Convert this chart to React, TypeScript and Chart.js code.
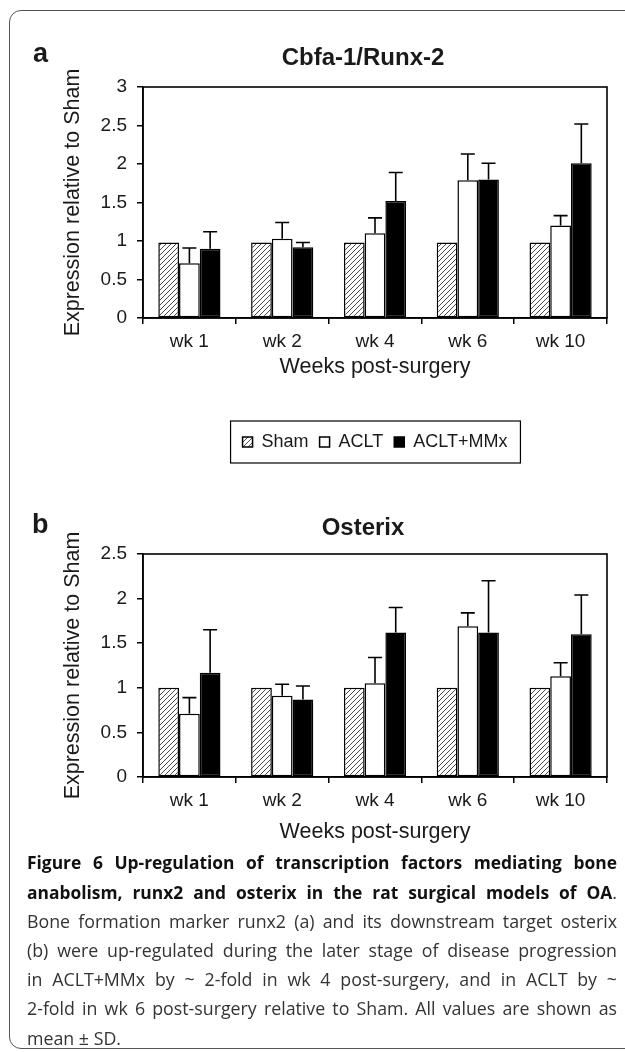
import React, { useEffect, useRef } from 'react';
import { Chart, registerables } from 'chart.js';

Chart.register(...registerables);

// ---------- data ----------
const categories = ['wk 1', 'wk 2', 'wk 4', 'wk 6', 'wk 10'];
const seriesNames = ['Sham', 'ACLT', 'ACLT+MMx'];

const runxSham = [0.98, 0.98, 0.98, 0.98, 0.98];
const runxAclt = [0.71, 1.03, 1.1, 1.79, 1.2];
const runxAcltSd = [0.2, 0.21, 0.2, 0.34, 0.13];
const runxMmx = [0.9, 0.92, 1.52, 1.8, 2.01];
const runxMmxSd = [0.22, 0.06, 0.37, 0.21, 0.51];
const runxTicks = [0, 0.5, 1, 1.5, 2, 2.5, 3];

const osxSham = [1, 1, 1, 1, 1];
const osxAclt = [0.71, 0.91, 1.05, 1.69, 1.13];
const osxAcltSd = [0.18, 0.13, 0.29, 0.15, 0.15];
const osxMmx = [1.17, 0.87, 1.62, 1.62, 1.6];
const osxMmxSd = [0.48, 0.15, 0.28, 0.58, 0.44];
const osxTicks = [0, 0.5, 1, 1.5, 2, 2.5];

const yTitle = 'Expression relative to Sham';
const xTitle = 'Weeks post-surgery';

const captionBold1 = 'Figure 6 Up-regulation of transcription factors mediating bone';
const captionBold2 = 'anabolism, runx2 and osterix in the rat surgical models of OA';
const captionLines = [
  'Bone formation marker runx2 (a) and its downstream target osterix',
  '(b) were up-regulated during the later stage of disease progression',
  'in ACLT+MMx by ~ 2-fold in wk 4 post-surgery, and in ACLT by ~',
  '2-fold in wk 6 post-surgery relative to Sham. All values are shown as',
  'mean ± SD.',
];

const FONT = '"Liberation Sans", Arial, Helvetica, sans-serif';
const INK = '#1a1a1a';

function makeHatch(): CanvasPattern | string {
  const c = document.createElement('canvas');
  const s = 5;
  c.width = s;
  c.height = s;
  const g = c.getContext('2d');
  if (!g) return '#ccc';
  g.fillStyle = '#ffffff';
  g.fillRect(0, 0, s, s);
  g.strokeStyle = '#4a4a4a';
  g.lineWidth = 1;
  g.beginPath();
  g.moveTo(0, s);
  g.lineTo(s, 0);
  g.moveTo(-1, 1);
  g.lineTo(1, -1);
  g.moveTo(s - 1, s + 1);
  g.lineTo(s + 1, s - 1);
  g.stroke();
  const p = g.createPattern(c, 'repeat');
  return p || '#ccc';
}

const errorBarPlugin = {
  id: 'errorBars',
  afterDatasetsDraw(chart: any) {
    const ctx = chart.ctx;
    const y = chart.scales.y;
    chart.data.datasets.forEach((ds: any, i: number) => {
      const errs = ds.errors;
      if (!errs) return;
      const meta = chart.getDatasetMeta(i);
      meta.data.forEach((bar: any, j: number) => {
        const v = ds.data[j];
        const e = errs[j];
        const top = y.getPixelForValue(v + e);
        const x = bar.x;
        ctx.save();
        ctx.strokeStyle = '#000';
        ctx.lineWidth = 1.6;
        ctx.beginPath();
        ctx.moveTo(x, bar.y);
        ctx.lineTo(x, top);
        ctx.moveTo(x - 7, top);
        ctx.lineTo(x + 7, top);
        ctx.stroke();
        ctx.restore();
      });
    });
  },
};

const frameAndLegendPlugin = {
  id: 'frameAndLegend',
  afterLayout(chart: any) {
    const t = chart.titleBlock;
    if (t) {
      t.left -= 12;
      t.right -= 12;
    }
  },
  afterDraw(chart: any) {
    const ctx = chart.ctx;
    const a = chart.chartArea;
    ctx.save();
    ctx.strokeStyle = '#000';
    ctx.lineWidth = 1.6;
    ctx.strokeRect(a.left, a.top, a.right - a.left, a.bottom - a.top);
    const lg = chart.legend;
    if (lg && lg.options.display && lg.legendHitBoxes && lg.legendHitBoxes.length) {
      const hb = lg.legendHitBoxes;
      let minX = Infinity;
      let maxX = -Infinity;
      hb.forEach((h: any) => {
        minX = Math.min(minX, h.left);
        maxX = Math.max(maxX, h.left + h.width);
      });
      const cy = hb[0].top + hb[0].height / 2;
      ctx.lineWidth = 1.2;
      ctx.strokeRect(minX - 12, cy - 21, maxX - minX + 25, 42);
    }
    ctx.restore();
  },
};

type PanelProps = {
  title: string;
  sham: number[];
  aclt: number[];
  acltSd: number[];
  mmx: number[];
  mmxSd: number[];
  ticks: number[];
  showLegend: boolean;
  top: number;
  height: number;
  titlePad: { top: number; bottom: number };
  layoutBottom: number;
  xAxisHeight: number;
  xTitleBottom: number;
};

function BarPanel(p: PanelProps) {
  const ref = useRef<HTMLCanvasElement | null>(null);
  useEffect(() => {
    if (!ref.current) return;
    const hatch = makeHatch();
    const chart = new Chart(ref.current, {
      type: 'bar',
      data: {
        labels: categories,
        datasets: [
          {
            label: seriesNames[0],
            data: p.sham,
            backgroundColor: hatch as any,
            borderColor: '#000',
            borderWidth: 1.5,
            borderSkipped: false,
          },
          {
            label: seriesNames[1],
            data: p.aclt,
            errors: p.acltSd,
            backgroundColor: '#ffffff',
            borderColor: '#000',
            borderWidth: 1.5,
            borderSkipped: false,
          } as any,
          {
            label: seriesNames[2],
            data: p.mmx,
            errors: p.mmxSd,
            backgroundColor: '#000000',
            borderColor: '#000',
            borderWidth: 1.5,
            borderSkipped: false,
          } as any,
        ],
      },
      options: {
        responsive: false,
        animation: false,
        devicePixelRatio: 1,
        datasets: { bar: { categoryPercentage: 0.67, barPercentage: 1 } },
        layout: { padding: { left: 60, right: 18, top: 0, bottom: p.layoutBottom } },
        plugins: {
          title: {
            display: true,
            text: p.title,
            fullSize: false,
            color: INK,
            font: { family: FONT, size: 24, weight: 'bold' },
            padding: p.titlePad,
          },
          legend: {
            display: p.showLegend,
            position: 'bottom',
            fullSize: false,
            labels: {
              boxWidth: 10,
              boxHeight: 10,
              padding: 11,
              color: INK,
              font: { family: FONT, size: 18 },
            },
          },
          tooltip: { enabled: false },
        },
        scales: {
          x: {
            type: 'category',
            grid: {
              display: true,
              drawOnChartArea: false,
              drawTicks: true,
              tickLength: 6,
              offset: true,
              color: '#000',
              lineWidth: 1.5,
            },
            border: { display: true, color: '#000', width: 1.6 },
            ticks: { color: INK, font: { family: FONT, size: 19 }, padding: 6 },
            title: {
              display: true,
              text: xTitle,
              color: INK,
              font: { family: FONT, size: 21.5 },
              padding: { top: 0, bottom: p.xTitleBottom },
            },
            afterFit: (s: any) => {
              s.height = p.xAxisHeight;
            },
          },
          y: {
            min: p.ticks[0],
            max: p.ticks[p.ticks.length - 1],
            grid: {
              display: true,
              drawOnChartArea: false,
              drawTicks: true,
              tickLength: 6,
              color: '#000',
              lineWidth: 1.5,
            },
            border: { display: true, color: '#000', width: 1.6 },
            afterBuildTicks: (s: any) => {
              s.ticks = p.ticks.map((v) => ({ value: v }));
            },
            ticks: {
              color: INK,
              font: { family: FONT, size: 19 },
              padding: 10,
              callback: (v: any) => String(+v),
            },
            title: {
              display: true,
              text: yTitle,
              color: INK,
              font: { family: FONT, size: 21.5 },
              padding: 0,
            },
            afterFit: (s: any) => {
              s.width = 83;
            },
          },
        },
      },
      plugins: [errorBarPlugin, frameAndLegendPlugin],
    } as any);
    return () => chart.destroy();
  }, []);
  return (
    <canvas
      ref={ref}
      width={625}
      height={p.height}
      style={{ position: 'absolute', left: 0, top: p.top, width: 625, height: p.height }}
    />
  );
}

export default function App() {
  useEffect(() => {
    document.body.style.margin = '0';
  }, []);
  const letterStyle: React.CSSProperties = {
    position: 'absolute',
    fontFamily: FONT,
    fontWeight: 'bold',
    fontSize: 27,
    lineHeight: '27px',
    color: INK,
  };
  const lineStyle = (last: boolean): React.CSSProperties => ({
    textAlign: last ? 'left' : 'justify',
    textAlignLast: last ? 'left' : 'justify',
    height: 29.2,
  });
  return (
    <div
      style={{
        position: 'absolute',
        left: 0,
        top: 0,
        width: 625,
        height: 1052,
        overflow: 'hidden',
        background: '#fff',
      }}
    >
      <div
        style={{
          position: 'absolute',
          left: 9,
          top: 10,
          width: 660,
          height: 1039,
          border: '1.5px solid #555',
          borderRadius: 12,
          boxSizing: 'border-box',
        }}
      />
      <BarPanel
        title="Cbfa-1/Runx-2"
        sham={runxSham}
        aclt={runxAclt}
        acltSd={runxAcltSd}
        mmx={runxMmx}
        mmxSd={runxMmxSd}
        ticks={runxTicks}
        showLegend={true}
        top={0}
        height={480}
        titlePad={{ top: 43.6, bottom: 14.6 }}
        layoutBottom={19}
        xAxisHeight={104}
        xTitleBottom={42}
      />
      <BarPanel
        title="Osterix"
        sham={osxSham}
        aclt={osxAclt}
        acltSd={osxAcltSd}
        mmx={osxMmx}
        mmxSd={osxMmxSd}
        ticks={osxTicks}
        showLegend={false}
        top={480}
        height={370}
        titlePad={{ top: 33.6, bottom: 11.6 }}
        layoutBottom={0}
        xAxisHeight={73}
        xTitleBottom={5}
      />
      <div style={{ ...letterStyle, left: 33, top: 40 }}>a</div>
      <div style={{ ...letterStyle, left: 32, top: 511 }}>b</div>
      <div
        style={{
          position: 'absolute',
          left: 27,
          top: 848.4,
          width: 590,
          fontFamily: '"Open Sans", Lato, sans-serif',
          fontSize: 17.8,
          lineHeight: '29.2px',
          color: '#333',
        }}
      >
        <div style={{ ...lineStyle(false), fontWeight: 'bold', color: '#111', fontSize: 17.4 }}>
          {captionBold1}
        </div>
        <div style={lineStyle(false)}>
          <span style={{ fontWeight: 'bold', color: '#111', fontSize: 17.4 }}>{captionBold2}</span>.
        </div>
        {captionLines.map((l, i) => (
          <div key={i} style={lineStyle(i === captionLines.length - 1)}>
            {l}
          </div>
        ))}
      </div>
    </div>
  );
}
